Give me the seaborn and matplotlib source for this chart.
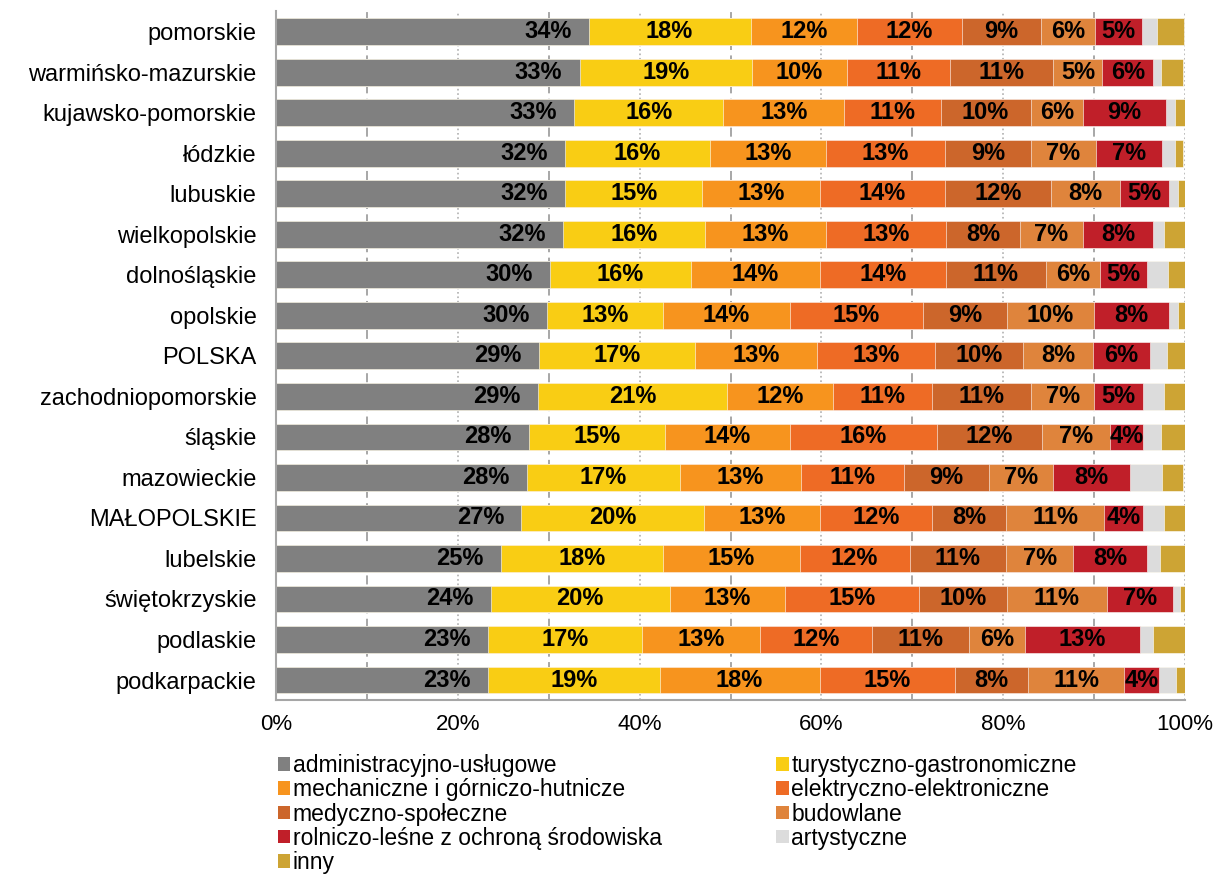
import numpy as np
import pandas as pd
import matplotlib
matplotlib.use("Agg")
import matplotlib.pyplot as plt
import seaborn as sns
from matplotlib.patches import Patch
from matplotlib.ticker import MultipleLocator, PercentFormatter

regions = ["pomorskie", "warmińsko-mazurskie", "kujawsko-pomorskie", "łódzkie",
           "lubuskie", "wielkopolskie", "dolnośląskie", "opolskie", "POLSKA",
           "zachodniopomorskie", "śląskie", "mazowieckie", "MAŁOPOLSKIE",
           "lubelskie", "świętokrzyskie", "podlaskie", "podkarpackie"]

categories = ["administracyjno-usługowe", "turystyczno-gastronomiczne",
              "mechaniczne i górniczo-hutnicze", "elektryczno-elektroniczne",
              "medyczno-społeczne", "budowlane",
              "rolniczo-leśne z ochroną środowiska", "artystyczne", "inny"]

administracyjne = [34.4, 33.4, 32.8, 31.8, 31.8, 31.6, 30.1, 29.8, 28.9, 28.8, 27.8, 27.6, 27.0, 24.7, 23.6, 23.3, 23.3]
turystyczne = [17.8, 19.0, 16.4, 15.9, 15.1, 15.6, 15.6, 12.8, 17.2, 20.8, 15.0, 16.8, 20.1, 17.9, 19.7, 17.0, 18.9]
mechaniczne = [11.7, 10.4, 13.3, 12.8, 12.9, 13.3, 14.1, 13.9, 13.4, 11.7, 13.7, 13.4, 12.7, 15.0, 12.7, 12.9, 17.6]
elektryczne = [11.6, 11.3, 10.6, 13.1, 13.8, 13.2, 13.9, 14.7, 13.0, 10.9, 16.2, 11.3, 12.4, 12.1, 14.7, 12.4, 14.9]
medyczne = [8.6, 11.4, 9.9, 9.4, 11.6, 8.1, 11.0, 9.2, 9.7, 10.9, 11.6, 9.3, 8.1, 10.6, 9.7, 10.6, 8.0]
budowlane = [6.0, 5.4, 5.8, 7.2, 7.6, 7.0, 5.9, 9.6, 7.7, 6.9, 7.4, 7.1, 10.8, 7.4, 11.0, 6.2, 10.6]
rolnicze = [5.2, 5.6, 9.1, 7.3, 5.4, 7.7, 5.2, 8.2, 6.2, 5.4, 3.7, 8.4, 4.3, 8.1, 7.3, 12.6, 3.8]
artystyczne = [1.6, 0.8, 1.0, 1.4, 1.0, 1.2, 2.3, 1.0, 1.9, 2.3, 2.0, 3.6, 2.3, 1.4, 0.7, 1.5, 1.9]
inny = [3.0, 2.5, 1.3, 0.9, 1.1, 2.3, 1.9, 0.9, 2.1, 2.3, 2.8, 2.3, 2.3, 2.8, 0.7, 3.6, 1.1]

colors = ["#808080", "#F9CD14", "#F7941E", "#EE6B25", "#CC662B",
          "#DF843C", "#C01F29", "#DCDCDC", "#CDA434"]

df = pd.DataFrame({
    "region": regions,
    categories[0]: administracyjne,
    categories[1]: turystyczne,
    categories[2]: mechaniczne,
    categories[3]: elektryczne,
    categories[4]: medyczne,
    categories[5]: budowlane,
    categories[6]: rolnicze,
    categories[7]: artystyczne,
    categories[8]: inny,
})
cum = df[categories].cumsum(axis=1)

sns.set_style("white")
plt.rcParams["font.family"] = ["Liberation Sans", "DejaVu Sans"]

fig = plt.figure(figsize=(12.13, 8.77), dpi=100)
ax = fig.add_axes([0.2275, 0.2015, 0.7495, 0.7855])

for i in range(len(categories) - 1, -1, -1):
    sns.barplot(x=cum[categories[i]], y=df["region"], ax=ax, color=colors[i],
                orient="h", width=0.66, saturation=1, edgecolor="white",
                linewidth=0.4, zorder=2)

for i, cat in enumerate(categories[:7]):
    for j in range(len(regions)):
        v = df[cat].iloc[j]
        end = cum[cat].iloc[j]
        label = f"{int(round(v))}%"
        if i == 0:
            ax.text(end - 1.9, j, label, ha="right", va="center",
                    fontsize=17, fontweight="bold", color="black", zorder=3)
        else:
            ax.text(end - v / 2, j, label, ha="center", va="center",
                    fontsize=17, fontweight="bold", color="black", zorder=3)

ax.set_xlim(0, 100)
ax.set_ylim(len(regions) - 0.5, -0.5)
ax.xaxis.set_major_locator(MultipleLocator(20))
ax.xaxis.set_minor_locator(MultipleLocator(10))
ax.xaxis.set_major_formatter(PercentFormatter(decimals=0))
ax.grid(which="major", axis="x", linestyle=":", color="#b0b0b0", linewidth=1.2, zorder=0)
ax.grid(which="minor", axis="x", linestyle=(0, (5, 3)), color="#a0a0a0", linewidth=1.3, zorder=0)
ax.grid(axis="y", visible=False)
ax.set_axisbelow(True)
ax.tick_params(axis="both", which="both", length=0, colors="black")
ax.tick_params(axis="y", labelsize=17, pad=14)
ax.tick_params(axis="x", labelsize=16, pad=10)
ax.set_xlabel("")
ax.set_ylabel("")
for s in ["top", "right"]:
    ax.spines[s].set_visible(False)
for s in ["left", "bottom"]:
    ax.spines[s].set_color("#a6a6a6")
    ax.spines[s].set_linewidth(1.5)

order = [0, 2, 4, 6, 8, 1, 3, 5, 7]
handles = [Patch(facecolor=colors[k], edgecolor="none") for k in order]
labels = [categories[k] for k in order]
fig.legend(handles, labels, loc="upper left", bbox_to_anchor=(0.229, 0.140),
           ncol=2, frameon=False, fontsize=16.5, handlelength=0.55, handleheight=0.55,
           handletextpad=0.1, labelspacing=0.05, columnspacing=5.0,
           borderaxespad=0, borderpad=0, labelcolor="black")

fig.savefig("out.png", dpi=100)
